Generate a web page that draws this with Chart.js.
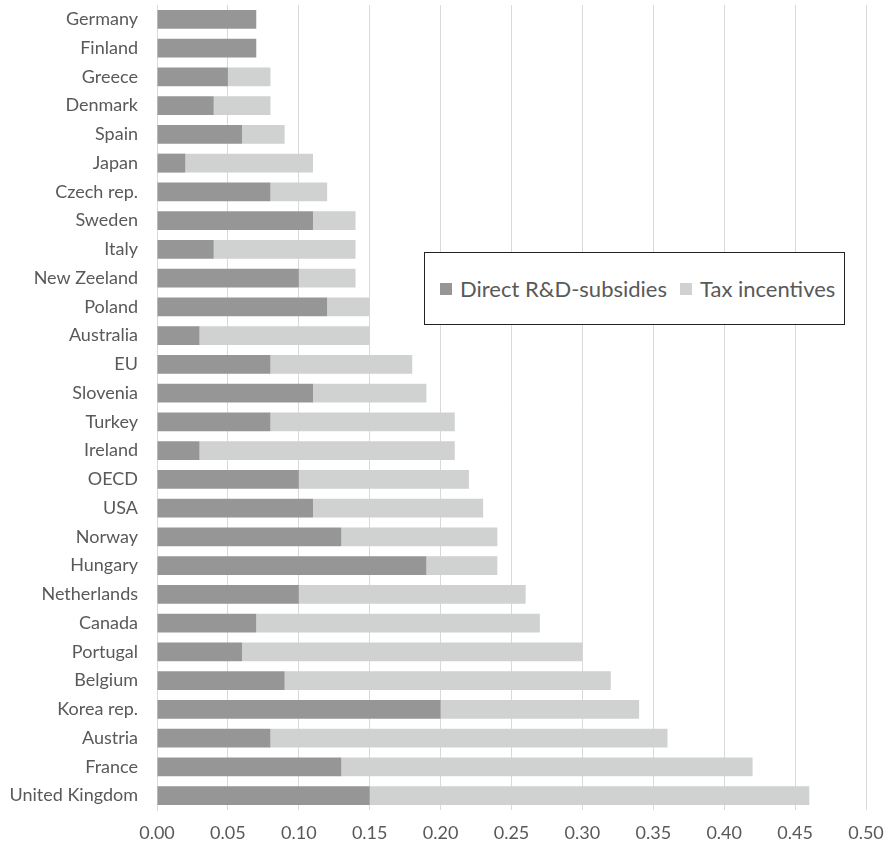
<!DOCTYPE html>
<html>
<head>
<meta charset="utf-8">
<script src="https://cdn.jsdelivr.net/npm/chart.js@4.4.0/dist/chart.umd.min.js"></script>
<style>
    html, body { margin: 0; padding: 0; background: #fff; }
    #wrap { position: relative; width: 891px; height: 847px; }
    #legendBox {
        position: absolute; left: 424px; top: 252px; width: 421px; height: 73px;
        border: 1px solid #222; background: #fff; box-sizing: border-box;
        display: flex; align-items: center; padding-left: 15px; white-space: nowrap;
        font-family: Lato, "Open Sans", sans-serif; font-size: 22px; color: #595959;
    }
    .lg { display: flex; align-items: center; margin-right: 13px; flex-shrink: 0; }
    .sw { width: 12px; height: 12px; margin-right: 8px; display: inline-block; }
</style>
</head>
<body>
<div id="wrap">
    <canvas id="chartSubsidies" width="891" height="847"></canvas>
    <div id="legendBox"></div>
</div>
<script>
// Dados: apoio público à I&D (% do PIB)
const countries = ['Germany', 'Finland', 'Greece', 'Denmark', 'Spain', 'Japan', 'Czech rep.', 'Sweden',
    'Italy', 'New Zeeland', 'Poland', 'Australia', 'EU', 'Slovenia', 'Turkey', 'Ireland', 'OECD', 'USA',
    'Norway', 'Hungary', 'Netherlands', 'Canada', 'Portugal', 'Belgium', 'Korea rep.', 'Austria',
    'France', 'United Kingdom'];
const directSubsidies = [0.07, 0.07, 0.05, 0.04, 0.06, 0.02, 0.08, 0.11, 0.04, 0.10, 0.12, 0.03, 0.08, 0.11,
    0.08, 0.03, 0.10, 0.11, 0.13, 0.19, 0.10, 0.07, 0.06, 0.09, 0.20, 0.08, 0.13, 0.15];
const taxIncentives = [0.00, 0.00, 0.03, 0.04, 0.03, 0.09, 0.04, 0.03, 0.10, 0.04, 0.03, 0.12, 0.10, 0.08,
    0.13, 0.18, 0.12, 0.12, 0.11, 0.05, 0.16, 0.20, 0.24, 0.23, 0.14, 0.28, 0.29, 0.31];
const xTicks = [0, 0.05, 0.10, 0.15, 0.20, 0.25, 0.30, 0.35, 0.40, 0.45, 0.50];

const FONT = 'Lato, "Open Sans", sans-serif';
const TEXT = '#595959';

const datasets = [
    { label: 'Direct R&D-subsidies', data: directSubsidies, backgroundColor: '#969696' },
    { label: 'Tax incentives', data: taxIncentives, backgroundColor: '#d0d1d1' }
];

new Chart(document.getElementById('chartSubsidies'), {
    type: 'bar',
    data: {
        labels: countries,
        datasets: datasets.map(d => Object.assign({}, d, {
            borderWidth: 0,
            categoryPercentage: 1,
            barPercentage: 0.66
        }))
    },
    options: {
        indexAxis: 'y',
        responsive: false,
        animation: false,
        layout: { padding: { top: 5, right: 25, bottom: 0, left: 0 } },
        plugins: {
            legend: { display: false },
            tooltip: { enabled: false }
        },
        scales: {
            x: {
                stacked: true,
                min: 0,
                max: 0.5,
                afterBuildTicks: s => { s.ticks = xTicks.map(v => ({ value: v })); },
                afterFit: s => {
                    s.height = 37;
                    s.paddingLeft = 0;
                    s.paddingRight = 0;
                },
                border: { display: false },
                grid: { color: '#d9d9d9', lineWidth: 1, drawTicks: false },
                ticks: {
                    padding: 12,
                    color: TEXT,
                    font: { family: FONT, size: 18 },
                    callback: v => Number(v).toFixed(2)
                }
            },
            y: {
                stacked: true,
                afterFit: s => {
                    s.width = 157;
                    s.paddingTop = 0;
                    s.paddingBottom = 0;
                },
                border: { display: true, color: '#d9d9d9' },
                grid: { display: false, drawTicks: false },
                ticks: {
                    padding: 19,
                    autoSkip: false,
                    color: TEXT,
                    font: { family: FONT, size: 18 }
                }
            }
        }
    }
});

// Legenda em caixa, como no original
const box = document.getElementById('legendBox');
datasets.forEach(d => {
    const item = document.createElement('span');
    item.className = 'lg';
    item.innerHTML = `<span class="sw" style="background:${d.backgroundColor}"></span>${d.label}`;
    box.appendChild(item);
});
</script>
</body>
</html>
